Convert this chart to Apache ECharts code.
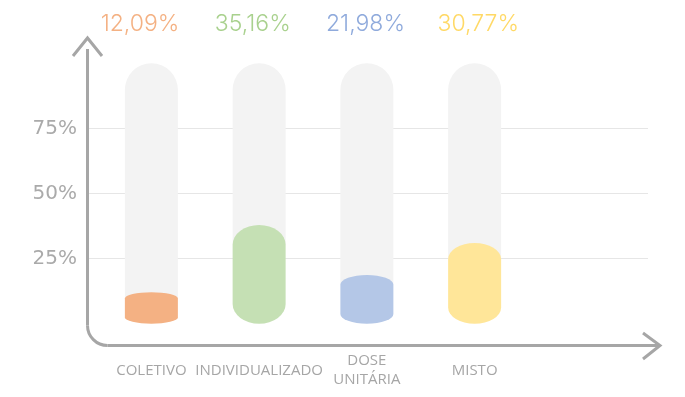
<!DOCTYPE html>
<html>
<head>
<meta charset="utf-8">
<script src="https://cdn.jsdelivr.net/npm/echarts@6/dist/echarts.min.js"></script>
<style>
  html, body { margin: 0; padding: 0; background: #fff; }
  #chart { width: 685px; height: 397px; }
</style>
</head>
<body>
<div id="chart"></div>
<script>
  // dados
  var categories = ['COLETIVO', 'INDIVIDUALIZADO', 'DOSE\nUNITÁRIA', 'MISTO'];
  var barValues = [12.1, 37.9, 18.7, 31.0];   // altura das barras
  var pctLabels = ['12,09%', '35,16%', '21,98%', '30,77%'];
  var yTicks = [25, 50, 75];

  var barColors = ['#f4b183', '#c5e0b4', '#b4c7e7', '#ffe699'];
  var labelColors = ['#f4b183', '#a9d18e', '#8faadc', '#ffd966'];
  var axisColor = '#a6a6a6';

  var chart = echarts.init(document.getElementById('chart'), null, { renderer: 'canvas' });

  function renderItem(params, api) {
    var i = api.value(0);
    var v = api.value(1);
    var top = api.coord([i, v]);
    var base = api.coord([i, 0]);
    var full = api.coord([i, 100]);
    var w = 53;
    var rx = w / 2;
    var x = top[0] - rx;
    var h = base[1] - top[1];
    var ry = Math.min(rx, h * 0.2);
    var ty = top[1];
    var by = base[1];
    // fundo cinza (topo arredondado)
    var bg = 'M' + x + ',' + (full[1] + rx) +
      ' A' + rx + ',' + rx + ' 0 0 1 ' + (x + w) + ',' + (full[1] + rx) +
      ' V' + (ty + ry) + ' H' + x + ' Z';
    // barra colorida
    var fg = 'M' + x + ',' + (ty + ry) +
      ' A' + rx + ',' + ry + ' 0 0 1 ' + (x + w) + ',' + (ty + ry) +
      ' V' + (by - ry) +
      ' A' + rx + ',' + ry + ' 0 0 1 ' + x + ',' + (by - ry) + ' Z';
    return {
      type: 'group',
      children: [
        { type: 'path', shape: { pathData: bg }, style: { fill: '#f3f3f3' } },
        { type: 'path', shape: { pathData: fg }, style: { fill: barColors[i] } }
      ]
    };
  }

  var axisStyle = { fill: null, stroke: axisColor, lineWidth: 3 };

  var option = {
    animation: false,
    grid: [
      { left: 89, right: 37, top: 63.3, bottom: 73.3 },
      { left: 97.5, width: 431, top: 63.3, bottom: 73.3 },
      { left: 83.6, width: 451, top: 63.3, bottom: 73.3 }
    ],
    xAxis: [
      { gridIndex: 0, type: 'value', show: false, min: 0, max: 1 },
      {
        gridIndex: 1,
        type: 'category',
        data: categories,
        axisLine: { show: false },
        axisTick: { show: false },
        axisLabel: {
          color: axisColor,
          fontFamily: 'Open Sans',
          fontSize: 15,
          lineHeight: 19,
          margin: 47,
          verticalAlign: 'middle',
          interval: 0
        }
      },
      {
        // percentuais no topo
        gridIndex: 2,
        type: 'category',
        position: 'top',
        data: pctLabels,
        axisLine: { show: false },
        axisTick: { show: false },
        axisLabel: {
          fontFamily: 'Inter',
          fontWeight: 300,
          fontSize: 23,
          margin: 39,
          verticalAlign: 'middle',
          interval: 0,
          color: function (val, idx) { return labelColors[idx]; }
        }
      }
    ],
    yAxis: [
      {
        gridIndex: 0,
        type: 'value',
        min: 0,
        max: 100,
        interval: 25,
        axisLine: { show: false },
        axisTick: { show: false },
        axisLabel: {
          color: '#aaaaaa',
          fontFamily: 'DejaVu Sans',
          fontSize: 20,
          margin: 12,
          formatter: function (v) {
            return yTicks.indexOf(v) >= 0 ? v + '%' : '';
          }
        },
        splitLine: {
          show: true,
          showMinLine: false,
          showMaxLine: false,
          lineStyle: { color: '#e6e6e6', width: 1 }
        }
      },
      { gridIndex: 1, type: 'value', min: 0, max: 100, show: false },
      { gridIndex: 2, type: 'value', min: 0, max: 100, show: false }
    ],
    series: [
      {
        type: 'custom',
        xAxisIndex: 1,
        yAxisIndex: 1,
        renderItem: renderItem,
        encode: { x: 0, y: 1 },
        data: barValues.map(function (v, i) { return [i, v]; })
      }
    ],
    graphic: [
      // eixos com canto arredondado e setas
      { type: 'line', shape: { x1: 87.5, y1: 49, x2: 87.5, y2: 325.5 }, style: axisStyle },
      {
        type: 'arc',
        shape: { cx: 107.5, cy: 325.5, r: 20, startAngle: Math.PI / 2, endAngle: Math.PI, clockwise: true },
        style: axisStyle
      },
      { type: 'line', shape: { x1: 107.5, y1: 345.5, x2: 659, y2: 345.5 }, style: axisStyle },
      { type: 'polyline', shape: { points: [[73, 56], [87.5, 38], [102, 56]] }, style: axisStyle },
      { type: 'polyline', shape: { points: [[643, 333], [660, 345.5], [643, 359]] }, style: axisStyle }
    ]
  };

  chart.setOption(option);
</script>
</body>
</html>
